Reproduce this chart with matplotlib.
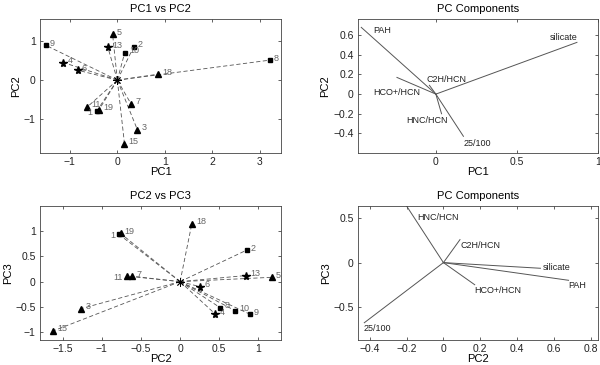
import matplotlib
matplotlib.use("Agg")
import matplotlib.pyplot as plt
from matplotlib.ticker import FuncFormatter

plt.rcParams['font.family'] = ['Liberation Sans', 'DejaVu Sans']

# muestras (scores)
ids = [1, 2, 3, 4, 5, 6, 7, 8, 9, 10, 11, 13, 15, 18, 19]
pc1 = [-0.43, 0.345, 0.42, -1.14, -0.10, -0.84, 0.29, 3.21, -1.51, 0.155, -0.63, -0.20, 0.15, 0.85, -0.39]
pc2 = [-0.78, 0.85, -1.26, 0.45, 1.17, 0.255, -0.61, 0.51, 0.89, 0.70, -0.68, 0.84, -1.62, 0.15, -0.76]
pc3 = [0.93, 0.62, -0.53, -0.64, 0.085, -0.10, 0.105, -0.51, -0.64, -0.57, 0.11, 0.12, -0.97, 1.14, 0.95]
groups = ["s", "s", "t", "p", "t", "p", "t", "s", "s", "s", "t", "p", "t", "t", "t"]

# componentes (loadings)
comp_names = ["PAH", "silicate", "C2H/HCN", "HCO+/HCN", "HNC/HCN", "25/100"]
load1 = [-0.46, 0.87, -0.04, -0.24, 0.035, 0.17]
load2 = [0.68, 0.527, 0.09, 0.17, -0.20, -0.43]
load3 = [-0.20, -0.064, 0.26, -0.25, 0.64, -0.68]

# donde van los textos de las componentes
txt12 = [(-0.386, 0.646), (0.70, 0.578), (-0.055, 0.15), (-0.386, 0.017), (-0.18, -0.265), (0.17, -0.50)]
txt23 = [(0.68, -0.264), (0.54, -0.053), (0.095, 0.196), (0.168, -0.31), (-0.144, 0.513), (-0.436, -0.743)]

marker_map = {"s": ("s", 3.0), "t": ("^", 5.0), "p": ("*", 5.8)}


def fmt(v, pos):
    return ("%g" % round(v, 3)).replace("-", "\u2212")


def style(ax, title, xl, yl):
    ax.set_title(title, fontsize=8, pad=5)
    ax.set_xlabel(xl, fontsize=8, labelpad=0)
    ax.set_ylabel(yl, fontsize=8, labelpad=2)
    ax.tick_params(direction="in", top=True, right=True, labelsize=7.5,
                   length=2.5, width=0.5, colors="#222222", pad=3)
    for s in ax.spines.values():
        s.set_linewidth(0.6)
        s.set_color("#444444")
    ax.xaxis.set_major_formatter(FuncFormatter(fmt))
    ax.yaxis.set_major_formatter(FuncFormatter(fmt))


def scores(ax, xs, ys, left_ids):
    for i, x, y, g in zip(ids, xs, ys, groups):
        ax.plot([0, x], [0, y], ls=(0, (5, 3)), color="#555555", lw=0.6)
    for i, x, y, g in zip(ids, xs, ys, groups):
        m, ms = marker_map[g]
        ax.plot(x, y, marker=m, ms=ms, color="black", ls="none")
        if i in left_ids:
            ax.annotate(str(i), (x, y), xytext=(-3, -1), textcoords="offset points",
                        ha="right", va="center", fontsize=6.5, color="#666666")
        else:
            ax.annotate(str(i), (x, y), xytext=(3, 1.5), textcoords="offset points",
                        ha="left", va="center", fontsize=6.5, color="#666666")
    ax.plot(0, 0, marker=(8, 2, 0), ms=6, color="black", mew=0.6, ls="none")


def loads(ax, xs, ys, pos):
    for n, x, y, p in zip(comp_names, xs, ys, pos):
        ax.plot([0, x], [0, y], color="#555555", lw=0.7)
        ax.text(p[0], p[1], n, fontsize=6.5, color="#222222", ha="left", va="center")


fig = plt.figure(figsize=(6, 3.65), dpi=100)

ax1 = fig.add_axes([0.0667, 0.5808, 0.4017, 0.3671])
scores(ax1, pc1, pc2, [1])
ax1.set_xlim(-1.63, 3.45)
ax1.set_ylim(-1.86, 1.56)
ax1.set_xticks([-1, 0, 1, 2, 3])
ax1.set_yticks([-1, 0, 1])
style(ax1, "PC1 vs PC2", "PC1", "PC2")

ax2 = fig.add_axes([0.5967, 0.5808, 0.4, 0.3671])
loads(ax2, load1, load2, txt12)
ax2.set_xlim(-0.48, 1.0)
ax2.set_ylim(-0.60, 0.765)
ax2.set_xticks([0, 0.5, 1])
ax2.set_yticks([-0.4, -0.2, 0, 0.2, 0.4, 0.6])
style(ax2, "PC Components", "PC1", "PC2")

ax3 = fig.add_axes([0.0667, 0.0685, 0.4017, 0.3671])
scores(ax3, pc2, pc3, [1, 11])
ax3.set_xlim(-1.79, 1.29)
ax3.set_ylim(-1.15, 1.49)
ax3.set_xticks([-1.5, -1, -0.5, 0, 0.5, 1])
ax3.set_yticks([-1, -0.5, 0, 0.5, 1])
style(ax3, "PC2 vs PC3", "PC2", "PC3")

ax4 = fig.add_axes([0.5967, 0.0685, 0.4, 0.3671])
loads(ax4, load2, load3, txt23)
ax4.set_xlim(-0.464, 0.84)
ax4.set_ylim(-0.875, 0.64)
ax4.set_xticks([-0.4, -0.2, 0, 0.2, 0.4, 0.6, 0.8])
ax4.set_yticks([-0.5, 0, 0.5])
style(ax4, "PC Components", "PC2", "PC3")

plt.savefig("out.png", dpi=100)
